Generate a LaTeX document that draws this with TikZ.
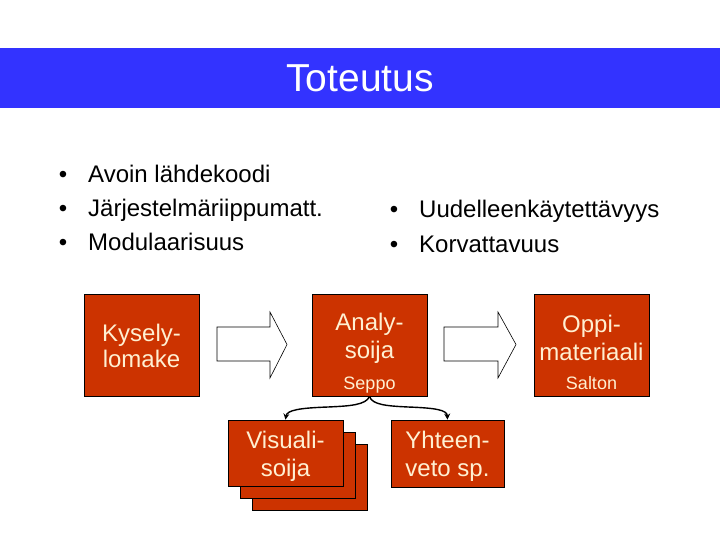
\documentclass[tikz,border=0pt]{standalone}
\usepackage{fontspec}
\setmainfont{Liberation Sans}
\usetikzlibrary{arrows.meta}
\definecolor{band}{RGB}{51,51,255}
\definecolor{boxred}{RGB}{204,51,0}
\definecolor{cream}{RGB}{255,240,210}
\newcommand{\smallnote}[1]{{\fontsize{18}{20}\selectfont #1}}
\begin{document}
\begin{tikzpicture}[x=1pt,y=-1pt,
  redbox/.style={draw=black,line width=0.8pt,fill=boxred,text=cream,align=center,inner sep=0pt,
     font=\fontsize{24}{28}\selectfont},
  bigbox/.style={redbox,minimum width=115pt,minimum height=102pt},
  smallbox/.style={redbox,minimum width=115pt,minimum height=66pt},
  blockarrow/.style={draw=black,line width=0.6pt,fill=white},
  bullettext/.style={anchor=base west,inner sep=0pt,font=\fontsize{24}{28}\selectfont},
  bulletdot/.style={anchor=base,inner sep=0pt,font=\fontsize{24}{28}\selectfont},
  brace/.style={draw=black,line width=1.4pt,-{Stealth[length=6pt,width=6pt]}}
]
\useasboundingbox (0,0) rectangle (720,540);
% title band
\fill[band] (0,48) rectangle (720,108);
\node[anchor=base,text=white,inner sep=0pt,font=\fontsize{39}{44}\selectfont] (title) at (360,92) {Toteutus};
% left bullets
\node[bulletdot] (b1) at (63,183) {•};
\node[bullettext] (t1) at (88,183) {Avoin lähdekoodi};
\node[bulletdot] (b2) at (63,217) {•};
\node[bullettext] (t2) at (88,217) {Järjestelmäriippumatt.};
\node[bulletdot] (b3) at (63,251) {•};
\node[bullettext] (t3) at (88,251) {Modulaarisuus};
% right bullets
\node[bulletdot] (b4) at (394,218) {•};
\node[bullettext] (t4) at (419,218) {Uudelleenkäytettävyys};
\node[bulletdot] (b5) at (394,252) {•};
\node[bullettext] (t5) at (419,252) {Korvattavuus};
% main boxes
\node[bigbox] (kys) at (141.5,345.5) {Kysely-\\[-2pt]lomake};
\node[bigbox] (ana) at (369.5,345) {\rule{0pt}{33pt}Analy-\\soija\\[3pt]\smallnote{Seppo}};
\node[bigbox] (opp) at (591.5,345.5) {\rule{0pt}{31pt}Oppi-\\materiaali\\[1pt]\smallnote{Salton}};
% block arrows
\draw[blockarrow] (217,327) -- (270,327) -- (270,312) -- (287,344.5) -- (270,378) -- (270,361) -- (217,361) -- cycle;
\draw[blockarrow] (444,327) -- (498,327) -- (498,312) -- (516,344.5) -- (498,378) -- (498,361) -- (444,361) -- cycle;
% stacked boxes
\node[smallbox] (vis3) at (309.5,477) {};
\node[smallbox] (vis2) at (297.5,465) {};
\node[smallbox] (vis1) at (285.5,453) {\rule{0pt}{23pt}Visuali-\\soija};
\node[smallbox,minimum width=113pt,minimum height=67pt] (yht) at (447.5,453.5) {\rule{0pt}{22pt}Yhteen-\\veto sp.};
% brace connectors
\draw[brace] (ana.south) .. controls (366,405) and (350,406) .. (328,407) .. controls (300,408) and (287,410) .. (vis1.north);
\draw[brace] (ana.south) .. controls (372,405) and (388,406) .. (408,407) .. controls (436,408) and (447,410) .. (yht.north);
\end{tikzpicture}
\end{document}
